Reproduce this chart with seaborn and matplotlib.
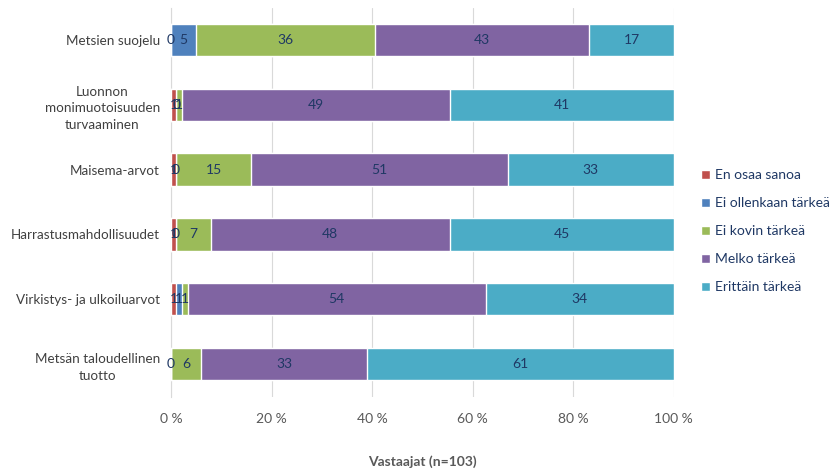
import numpy as np
import pandas as pd
import matplotlib
matplotlib.use("Agg")
import matplotlib.pyplot as plt
import seaborn as sns

# Kysymykset ja vastausmäärät (n=103)
kysymykset = ["Metsien suojelu",
              "Luonnon\nmonimuotoisuuden\nturvaaminen",
              "Maisema-arvot",
              "Harrastusmahdollisuudet",
              "Virkistys- ja ulkoiluarvot",
              "Metsän taloudellinen\ntuotto"]
luokat = ["En osaa sanoa", "Ei ollenkaan tärkeä", "Ei kovin tärkeä",
          "Melko tärkeä", "Erittäin tärkeä"]
en_osaa = [0, 1, 1, 1, 1, np.nan]
ei_ollenkaan = [5, 0, 0, 0, 1, 0]
ei_kovin = [36, 1, 15, 7, 1, 6]
melko = [43, 49, 51, 48, 54, 33]
erittain = [17, 41, 33, 45, 34, 61]

varit = ["#C0504D", "#4F81BD", "#9BBB59", "#8064A2", "#4BACC6"]

df = pd.DataFrame({"kysymys": kysymykset,
                   luokat[0]: en_osaa, luokat[1]: ei_ollenkaan,
                   luokat[2]: ei_kovin, luokat[3]: melko,
                   luokat[4]: erittain}).set_index("kysymys")
pct = df.div(df.sum(axis=1), axis=0) * 100
cum = pct.fillna(0).cumsum(axis=1)

sns.set_style("white")
plt.rcParams['font.family'] = ['Lato', 'DejaVu Sans']

fig = plt.figure(figsize=(8.38, 4.76), dpi=100)
ax = fig.add_axes([0.204, 0.167, 0.600, 0.817])

# pinotut palkit: piirretään kumulatiiviset summat takaperin
for luokka, vari in reversed(list(zip(luokat, varit))):
    sns.barplot(x=cum[luokka].values, y=cum.index, color=vari, orient="h",
                width=0.5, saturation=1, ax=ax, label=luokka, zorder=3)

# arvot palkkien keskelle
alku = cum.shift(1, axis=1).fillna(0)
for i, k in enumerate(kysymykset):
    for luokka in luokat:
        v = df.loc[k, luokka]
        if pd.isna(v):
            continue
        xpos = alku.loc[k, luokka] + pct.loc[k, luokka] / 2
        ax.text(xpos, i, f"{int(v)}", ha="center", va="center",
                fontsize=10, color="#1F3864", zorder=4)

ax.set_xlim(0, 100)
ax.set_xticks(range(0, 101, 20))
ax.set_xticklabels([f"{t} %" for t in range(0, 101, 20)], fontsize=10,
                   color="#595959")
ax.tick_params(axis="x", length=0, pad=12)
ax.tick_params(axis="y", length=0, pad=8)
for lab in ax.get_yticklabels():
    lab.set_multialignment("center")
    lab.set_linespacing(1.45)
    lab.set_fontsize(9.7)
    lab.set_color("#404040")
ax.xaxis.grid(True, color="#D9D9D9", lw=0.8, zorder=0)
for s in ["top", "right", "bottom"]:
    ax.spines[s].set_visible(False)
ax.spines["left"].set_color("#D9D9D9")
ax.set_ylabel("")
ax.set_xlabel("Vastaajat (n=103)", fontsize=10, fontweight="bold",
              color="#595959", labelpad=22)

h, l = ax.get_legend_handles_labels()
order = [l.index(x) for x in luokat]
ax.legend([h[j] for j in order], [l[j] for j in order], loc="center left",
          bbox_to_anchor=(1.03, 0.425), frameon=False, fontsize=10,
          handlelength=0.6, handleheight=0.6, handletextpad=0.4,
          labelspacing=1.15, labelcolor="#1F3864")

fig.savefig("out.png", dpi=100)
